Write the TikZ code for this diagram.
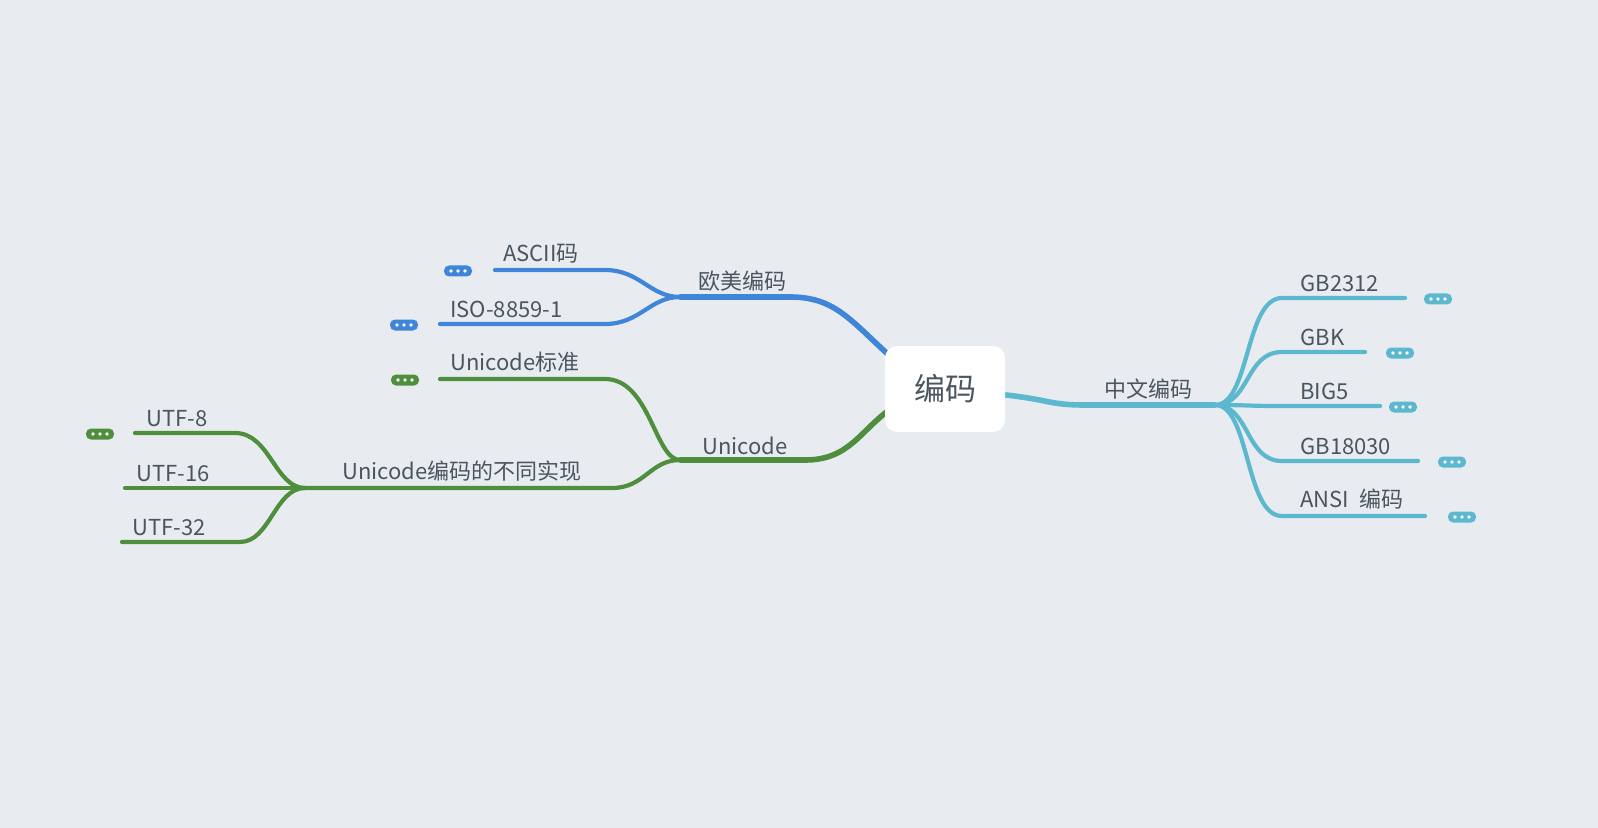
\documentclass[tikz,border=0pt]{standalone}
\usepackage{fontspec}
\setmainfont{Noto Sans CJK SC}
\definecolor{bg}{HTML}{E8ECF0}
\definecolor{cb}{HTML}{3F86D9}
\definecolor{cg}{HTML}{4F8E3C}
\definecolor{cc}{HTML}{5BB8CF}
\definecolor{tx}{HTML}{4A5560}
\tikzset{
 lbl/.style={text=tx,font=\fontsize{11}{13}\selectfont,inner sep=0pt},
 main/.style={line width=2.8pt,line cap=round},
 sub/.style={line width=2.1pt,line cap=round},
 pillbox/.style={rounded corners=2.5pt,minimum width=14pt,minimum height=5.5pt,inner sep=0pt}
}
\newcommand{\moredots}[4]{%
 \node[pillbox,fill=#2] (#1) at (#3,#4) {};
 \fill[white] (#1.center) circle (0.9pt) ([xshift=-3.5pt]#1.center) circle (0.9pt) ([xshift=3.5pt]#1.center) circle (0.9pt);}
\begin{document}
\begin{tikzpicture}[x=0.5pt,y=-0.5pt]
\fill[bg] (0,0) rectangle (1598,828);
\useasboundingbox (0,0) rectangle (1598,828);
% right branch
\coordinate (r0) at (1006,395); \coordinate (r1) at (1085,405); \coordinate (rh) at (1215,405);
\draw[main,cc] (r0) .. controls (1050,400) and (1050,405) .. (r1) -- (rh);
% blue / green main branches (under the box)
\coordinate (b0) at (892,358); \coordinate (b1) at (790,297); \coordinate (bh) at (680,297);
\draw[main,cb] (b0) .. controls (850,320) and (835,297) .. (b1) -- (bh);
\coordinate (g0) at (892,408); \coordinate (g1) at (805,460); \coordinate (gh) at (680,460);
\draw[main,cg] (g0) .. controls (860,430) and (850,460) .. (g1) -- (gh);
% center
\node[fill=white,rounded corners=6pt,minimum width=60pt,minimum height=43pt,text=tx,font=\fontsize{15.5}{18}\selectfont] (root) at (945,389) {编码};
\node[lbl,anchor=south] (zw) at (1148,400) {中文编码};
\foreach \n/\t/\y/\e/\d in {a/GB2312/298/1405/1438, b/GBK/352/1365/1400, c/BIG5/406/1380/1403, d/GB18030/461/1418/1452, e/ANSI\ \ 编码/516/1425/1462}{
 \coordinate (s\n) at (1282,\y); \coordinate (e\n) at (\e,\y);
 \draw[sub,cc] (rh) .. controls (1250,405) and (1245,\y) .. (s\n) -- (e\n);
 \node[lbl,anchor=south west] (l\n) at (1300,\y-6) {\t};
 \moredots{m\n}{cc}{\d}{\y+1}
}
\node[lbl,anchor=south] (om) at (742,292) {欧美编码};
\coordinate (ba1) at (605,270); \coordinate (ba2) at (495,270);
\draw[sub,cb] (bh) .. controls (650,297) and (640,270) .. (ba1) -- (ba2);
\node[lbl,anchor=south west] (lascii) at (503,264) {ASCII码};
\moredots{mba}{cb}{458}{271}
\coordinate (bb1) at (605,324); \coordinate (bb2) at (440,324);
\draw[sub,cb] (bh) .. controls (650,297) and (640,324) .. (bb1) -- (bb2);
\node[lbl,anchor=south west] (liso) at (450,318) {ISO-8859-1};
\moredots{mbb}{cb}{404}{325}
\node[lbl,anchor=south] (uc) at (745,455) {Unicode};
\coordinate (ga1) at (605,379); \coordinate (ga2) at (440,379);
\draw[sub,cg] (gh) .. controls (655,460) and (650,379) .. (ga1) -- (ga2);
\node[lbl,anchor=south west] (lstd) at (450,373) {Unicode标准};
\moredots{mga}{cg}{405}{380}
\coordinate (gb1) at (612,488); \coordinate (gh2) at (305,488);
\draw[sub,cg] (gh) .. controls (650,460) and (645,488) .. (gb1) -- (gh2);
\node[lbl,anchor=south] (limpl) at (462,482) {Unicode编码的不同实现};
\foreach \n/\t/\y/\s/\e/\lx in {a/UTF-8/433/235/135/146, b/UTF-16/488/305/125/136, c/UTF-32/542/240/122/132}{
 \coordinate (u\n) at (\s,\y); \coordinate (v\n) at (\e,\y);
 \draw[sub,cg] (gh2) .. controls (275,488) and (270,\y) .. (u\n) -- (v\n);
 \node[lbl,anchor=south west] (lu\n) at (\lx,\y-6) {\t};
}
\moredots{mua}{cg}{100}{434}
\end{tikzpicture}
\end{document}
